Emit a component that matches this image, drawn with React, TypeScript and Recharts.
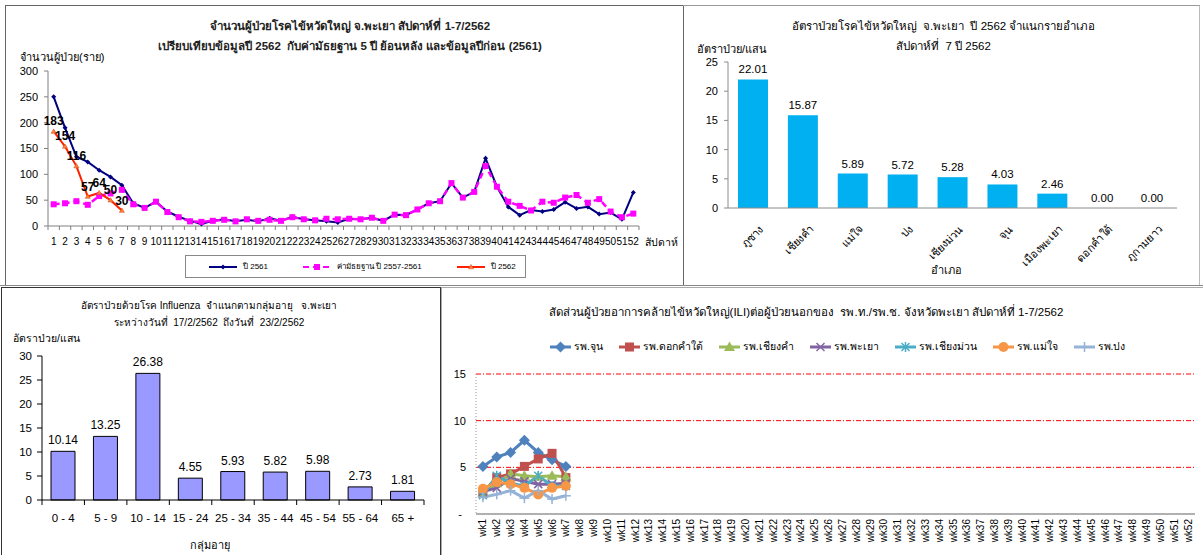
import React from 'react';
import {
  LineChart, Line, ComposedChart, Bar, XAxis, YAxis, LabelList, ReferenceLine,
} from 'recharts';

const FONT = "Tahoma, 'Liberation Sans', 'Noto Sans', sans-serif";

// ---- chart 1: weekly cases ----
const weeks = Array.from({ length: 52 }, (_, i) => String(i + 1));
const cases2561 = [250, 190, 134, 124, 108, 95, 79, 44, 35, 47, 28, 18, 10, 4, 10, 13, 9, 12, 9, 15, 10, 18, 13, 11, 9, 7, 14, 13, 16, 10, 22, 21, 32, 44, 48, 83, 55, 66, 131, 76, 37, 21, 31, 28, 32, 46, 34, 37, 23, 26, 13, 65];
const median5y = [42, 44, 48, 41, 58, 63, 70, 42, 35, 47, 27, 17, 9, 8, 10, 12, 9, 13, 10, 12, 10, 17, 13, 11, 14, 13, 14, 13, 16, 10, 22, 21, 32, 44, 48, 83, 55, 66, 116, 76, 47, 39, 30, 47, 45, 55, 60, 45, 52, 28, 17, 24];
const cases2562 = [183, 154, 116, 57, 64, 50, 30];
const lineTicks = [0, 50, 100, 150, 200, 250, 300];

const lineData = weeks.map((w, i) => ({
  week: w,
  y2561: cases2561[i],
  median: median5y[i],
  y2562: i < cases2562.length ? cases2562[i] : null,
}));

// ---- chart 2: rate by district ----
const districts = ['ภูซาง', 'เชียงคำ', 'แม่ใจ', 'ปง', 'เชียงม่วน', 'จุน', 'เมืองพะเยา', 'ดอกคำใต้', 'ภูกามยาว'];
const districtRates = [22.01, 15.87, 5.89, 5.72, 5.28, 4.03, 2.46, 0, 0];
const districtTicks = [0, 5, 10, 15, 20, 25];
const districtData = districts.map((d, i) => ({ name: d, rate: districtRates[i] }));

// ---- chart 3: rate by age group ----
const ageGroups = ['0 - 4', '5 - 9', '10 - 14', '15 - 24', '25 - 34', '35 - 44', '45 - 54', '55 - 64', '65 +'];
const ageRates = [10.14, 13.25, 26.38, 4.55, 5.93, 5.82, 5.98, 2.73, 1.81];
const ageTicks = [0, 5, 10, 15, 20, 25, 30];
const ageData = ageGroups.map((g, i) => ({ name: g, rate: ageRates[i] }));

// ---- chart 4: ILI proportion by hospital ----
const wkLabels = Array.from({ length: 52 }, (_, i) => `wk${i + 1}`);
const iliTicks = [0, 5, 10, 15];
const iliGrid = [5, 10, 15];
const hospJun = [5.1, 6.1, 6.6, 7.9, 6.6, 5.8, 5.1];
const hospDokkhamtai = [2.3, 3.9, 4.3, 5.1, 5.9, 6.5, 3.9];
const hospChiangkham = [2.3, 3.3, 4.3, 4.1, 4.0, 4.1, 4.0];
const hospPhayao = [2.4, 2.8, 3.8, 3.5, 3.2, 3.2, 3.3];
const hospChiangmuan = [2.0, 4.1, 3.3, 3.0, 4.1, 3.0, 3.0];
const hospMaechai = [2.7, 3.4, 3.2, 2.8, 2.1, 2.8, 3.0];
const hospPong = [1.8, 2.1, 2.5, 1.7, 2.5, 1.6, 1.95];

const hospitals = [
  { key: 'jun', name: 'รพ.จุน', color: '#4F81BD', marker: 'diamond', values: hospJun },
  { key: 'dok', name: 'รพ.ดอกคำใต้', color: '#C0504D', marker: 'square', values: hospDokkhamtai },
  { key: 'ck', name: 'รพ.เชียงคำ', color: '#9BBB59', marker: 'triangle', values: hospChiangkham },
  { key: 'py', name: 'รพ.พะเยา', color: '#8064A2', marker: 'x', values: hospPhayao },
  { key: 'cm', name: 'รพ.เชียงม่วน', color: '#4BACC6', marker: 'star', values: hospChiangmuan },
  { key: 'mc', name: 'รพ.แม่ใจ', color: '#F79646', marker: 'circle', values: hospMaechai },
  { key: 'pong', name: 'รพ.ปง', color: '#95B3D7', marker: 'plus', values: hospPong },
];

const iliData = wkLabels.map((w, i) => {
  const row: any = { week: w };
  hospitals.forEach((h) => { row[h.key] = i < h.values.length ? h.values[i] : null; });
  return row;
});

const lineSeries = [
  { key: 'y2561', name: 'ปี 2561', color: '#000080', marker: 'smalldiamond', dash: undefined },
  { key: 'median', name: 'ค่ามัธยฐาน ปี 2557-2561', color: '#FF00FF', marker: 'pinksquare', dash: '6 4' },
  { key: 'y2562', name: 'ปี 2562', color: '#FF2000', marker: 'smalltriangle', dash: undefined },
];

function Marker({ type, cx, cy, color }: { type: string; cx: number; cy: number; color: string }) {
  switch (type) {
    case 'smalldiamond':
      return <polygon points={`${cx},${cy - 2.5} ${cx + 2.5},${cy} ${cx},${cy + 2.5} ${cx - 2.5},${cy}`} fill={color} />;
    case 'pinksquare':
      return <rect x={cx - 3} y={cy - 3} width={6} height={6} fill={color} />;
    case 'smalltriangle':
      return <polygon points={`${cx},${cy - 2.5} ${cx + 2.5},${cy + 1.8} ${cx - 2.5},${cy + 1.8}`} fill="#FF8040" stroke="#D04000" strokeWidth={0.5} />;
    case 'diamond':
      return <polygon points={`${cx},${cy - 5.5} ${cx + 5.5},${cy} ${cx},${cy + 5.5} ${cx - 5.5},${cy}`} fill={color} />;
    case 'square':
      return <rect x={cx - 4.5} y={cy - 4.5} width={9} height={9} fill={color} />;
    case 'triangle':
      return <polygon points={`${cx},${cy - 5.5} ${cx + 5.5},${cy + 4} ${cx - 5.5},${cy + 4}`} fill={color} />;
    case 'x':
      return (
        <g stroke={color} strokeWidth={1.5}>
          <line x1={cx - 4} y1={cy - 4} x2={cx + 4} y2={cy + 4} />
          <line x1={cx - 4} y1={cy + 4} x2={cx + 4} y2={cy - 4} />
        </g>
      );
    case 'star':
      return (
        <g stroke={color} strokeWidth={1.5}>
          <line x1={cx - 4} y1={cy - 4} x2={cx + 4} y2={cy + 4} />
          <line x1={cx - 4} y1={cy + 4} x2={cx + 4} y2={cy - 4} />
          <line x1={cx} y1={cy - 5} x2={cx} y2={cy + 5} />
        </g>
      );
    case 'circle':
      return <circle cx={cx} cy={cy} r={5} fill={color} />;
    case 'plus':
      return (
        <g stroke={color} strokeWidth={1.5}>
          <line x1={cx - 5} y1={cy} x2={cx + 5} y2={cy} />
          <line x1={cx} y1={cy - 5} x2={cx} y2={cy + 5} />
        </g>
      );
    default:
      return null;
  }
}

const makeDot = (type: string, color: string) => (props: any) => {
  const { cx, cy, index, value } = props;
  if (cx == null || cy == null || value == null) return <g key={`d${index}`} />;
  return <g key={`d${index}`}><Marker type={type} cx={cx} cy={cy} color={color} /></g>;
};

// chart 1 geometry
const C1_BW = 591 / 52;
const WeekTick = (props: any) => {
  const { x, y, payload } = props;
  return (
    <g>
      <line x1={x - C1_BW / 2} x2={x - C1_BW / 2} y1={y} y2={y + 4} stroke="#808080" />
      {payload.value === '52' && <line x1={x + C1_BW / 2} x2={x + C1_BW / 2} y1={y} y2={y + 4} stroke="#808080" />}
      <text x={x} y={y + 19} textAnchor="middle" fontSize={10} fill="#000" fontFamily={FONT}>{payload.value}</text>
    </g>
  );
};

const DistrictTick = (props: any) => {
  const { x, y, payload } = props;
  const ax = x + 11;
  const ay = y + 22;
  return (
    <text x={ax} y={ay} textAnchor="end" fontSize={11} fill="#000" fontFamily={FONT} transform={`rotate(-45, ${ax}, ${ay})`}>
      {payload.value}
    </text>
  );
};

const C3_BW = (424 - 42) / 9;
const AgeTick = (props: any) => {
  const { x, y, payload } = props;
  return (
    <g>
      <line x1={x - C3_BW / 2} x2={x - C3_BW / 2} y1={y} y2={y + 5} stroke="#000" />
      {payload.value === '65 +' && <line x1={x + C3_BW / 2} x2={x + C3_BW / 2} y1={y} y2={y + 5} stroke="#000" />}
      <text x={x} y={y + 22} textAnchor="middle" fontSize={11.5} fill="#000" fontFamily={FONT}>{payload.value}</text>
    </g>
  );
};

const WkTick = (props: any) => {
  const { x, y, payload } = props;
  const ay = y + 5;
  return (
    <text x={x} y={ay} dy="0.35em" textAnchor="end" fontSize={10} fill="#000" fontFamily={FONT} transform={`rotate(-90, ${x}, ${ay})`}>
      {payload.value}
    </text>
  );
};

const IliYTick = (props: any) => {
  const { x, y, payload } = props;
  return (
    <text x={payload.value === 0 ? x - 4 : x} y={y} dy="0.35em" textAnchor="end" fontSize={11} fill="#000" fontFamily={FONT}>
      {payload.value === 0 ? '-' : payload.value}
    </text>
  );
};

const abs = (left: number, top: number, extra: React.CSSProperties = {}): React.CSSProperties => ({
  position: 'absolute', left, top, ...extra,
});

const txt: React.CSSProperties = { fontFamily: FONT, color: '#000', whiteSpace: 'nowrap' };

function LegendIcon({ color, marker, dash, width }: { color: string; marker: string; dash?: string; width: number }) {
  return (
    <svg width={width} height={12} style={{ display: 'block' }}>
      <line x1={1} x2={width - 1} y1={6} y2={6} stroke={color} strokeWidth={marker.startsWith('small') || marker === 'pinksquare' ? 2 : 3} strokeDasharray={dash} />
      <Marker type={marker} cx={width / 2} cy={6} color={color} />
    </svg>
  );
}

const fmt2 = (v: any) => Number(v).toFixed(2);

export default function App() {
  return (
    <div style={{ position: 'absolute', left: 0, top: 0, width: 1203, height: 555, background: '#fff', overflow: 'hidden', fontFamily: FONT }}>
      {/* panel frames */}
      <div style={abs(5, 5, { width: 677, height: 279, borderTop: '1px solid #666', borderLeft: '1px solid #666', borderRight: '1px solid #666' })} />
      <div style={abs(683, 5, { width: 516, height: 279, borderTop: '1px solid #999', borderRight: '1px solid #bbb' })} />
      <div style={abs(0, 285, { width: 1203, height: 0, borderTop: '1px solid #888' })} />
      <div style={abs(1, 287, { width: 438, height: 268, borderTop: '1px solid #333', borderLeft: '1px solid #333', borderRight: '1px solid #333' })} />
      <div style={abs(441, 287, { width: 762, height: 268, borderTop: '1px solid #aaa', borderLeft: '1px solid #aaa' })} />

      {/* ---------- chart 1 ---------- */}
      <div style={abs(0, 0)}>
        <LineChart width={681} height={285} data={lineData} margin={{ top: 71, right: 42, left: 8, bottom: 29 }}>
          <XAxis dataKey="week" scale="band" interval={0} height={30} tickLine={false} tickSize={0} tickMargin={0}
            axisLine={{ stroke: '#808080' }} tick={<WeekTick />} />
          <YAxis domain={[0, 300]} ticks={lineTicks} width={40} tickSize={4} tickMargin={6}
            axisLine={{ stroke: '#808080' }} tickLine={{ stroke: '#808080' }}
            tick={{ fontSize: 11, fill: '#000', fontFamily: FONT }} />
          {lineSeries.map((s) => (
            <Line key={s.key} dataKey={s.key} type="linear" stroke={s.color} strokeWidth={s.key === 'median' ? 2.5 : 2}
              strokeDasharray={s.dash} dot={makeDot(s.marker, s.color)} activeDot={false} isAnimationActive={false}>
              {s.key === 'y2562' && (
                <LabelList dataKey="y2562" position="top" offset={6} fontSize={12} fontWeight="bold" fill="#000" fontFamily={FONT} />
              )}
            </Line>
          ))}
        </LineChart>
      </div>
      <div style={abs(0, 16, { ...txt, width: 700, textAlign: 'center', fontSize: 11.5, fontWeight: 'bold', lineHeight: '20px', color: '#222' })}>
        จำนวนผู้ป่วยโรคไข้หวัดใหญ่ จ.พะเยา สัปดาห์ที่ 1-7/2562<br />
        เปรียบเทียบข้อมูลปี 2562&nbsp; กับค่ามัธยฐาน 5 ปี ย้อนหลัง และข้อมูลปีก่อน (2561)
      </div>
      <div style={abs(20, 48, { ...txt, fontSize: 11 })}>จำนวนผู้ป่วย(ราย)</div>
      <div style={abs(645, 234, { ...txt, fontSize: 10.5 })}>สัปดาห์</div>
      <div style={abs(185, 255, { width: 339, height: 21, border: '1px solid #888', display: 'flex', alignItems: 'center', background: '#fff' })}>
        {lineSeries.map((s, i) => (
          <div key={s.key} style={{ display: 'flex', alignItems: 'center', marginLeft: i === 0 ? 22 : 34 }}>
            <LegendIcon color={s.color} marker={s.marker} dash={s.dash} width={30} />
            <span style={{ ...txt, fontSize: 8, marginLeft: 5 }}>{s.name}</span>
          </div>
        ))}
      </div>

      {/* ---------- chart 2 ---------- */}
      <div style={abs(684, 0)}>
        <ComposedChart width={519} height={285} data={districtData} margin={{ top: 62, right: 26, left: 8, bottom: 17 }}>
          <XAxis dataKey="name" interval={0} height={60} tickLine={false} tickSize={0} tickMargin={0}
            axisLine={{ stroke: '#8c8c8c' }} tick={<DistrictTick />} />
          <YAxis domain={[0, 25]} ticks={districtTicks} width={36} tickSize={4} tickMargin={6}
            axisLine={{ stroke: '#8c8c8c' }} tickLine={{ stroke: '#8c8c8c' }}
            tick={{ fontSize: 11, fill: '#000', fontFamily: FONT }} />
          <Bar dataKey="rate" fill="#00B0F0" barSize={30} isAnimationActive={false} />
          <Line dataKey="rate" stroke="none" dot={false} activeDot={false} isAnimationActive={false}>
            <LabelList dataKey="rate" position="top" offset={6} fontSize={11.5} fill="#000" fontFamily={FONT} formatter={fmt2} />
          </Line>
        </ComposedChart>
      </div>
      <div style={abs(684, 16, { ...txt, width: 519, textAlign: 'center', fontSize: 11.5, lineHeight: '20px' })}>
        <div>อัตราป่วยโรคไข้หวัดใหญ่&nbsp; จ.พะเยา&nbsp; ปี 2562 จำแนกรายอำเภอ</div>
        <div>สัปดาห์ที่&nbsp; 7 ปี 2562</div>
      </div>
      <div style={abs(697, 40, { ...txt, fontSize: 11 })}>อัตราป่วย/แสน</div>
      <div style={abs(931, 261, { ...txt, fontSize: 11 })}>อำเภอ</div>

      {/* ---------- chart 3 ---------- */}
      <div style={abs(0, 285)}>
        <ComposedChart width={440} height={270} data={ageData} margin={{ top: 71, right: 16, left: 8, bottom: 15 }}>
          <XAxis dataKey="name" interval={0} height={40} tickLine={false} tickSize={0} tickMargin={0}
            axisLine={{ stroke: '#000' }} tick={<AgeTick />} />
          <YAxis domain={[0, 30]} ticks={ageTicks} width={34} tickSize={5} tickMargin={5}
            axisLine={{ stroke: '#000' }} tickLine={{ stroke: '#000' }}
            tick={{ fontSize: 11.5, fill: '#000', fontFamily: FONT }} />
          <Bar dataKey="rate" fill="#9999FF" stroke="#000" strokeWidth={1} barSize={24} isAnimationActive={false}>
            <LabelList dataKey="rate" position="top" offset={7} fontSize={12} fill="#000" fontFamily={FONT} formatter={fmt2} />
          </Bar>
        </ComposedChart>
      </div>
      <div style={abs(0, 297, { ...txt, width: 418, textAlign: 'center', fontSize: 10, lineHeight: '17px' })}>
        อัตราป่วยด้วยโรค Influenza&nbsp; จำแนกตามกลุ่มอายุ&nbsp;&nbsp; จ.พะเยา<br />
        ระหว่างวันที่&nbsp; 17/2/2562&nbsp; ถึงวันที่&nbsp; 23/2/2562
      </div>
      <div style={abs(13, 330, { ...txt, fontSize: 10.5 })}>อัตราป่วย/แสน</div>
      <div style={abs(190, 536, { ...txt, fontSize: 11 })}>กลุ่มอายุ</div>

      {/* ---------- chart 4 ---------- */}
      <div style={abs(441, 287)}>
        <LineChart width={762} height={268} data={iliData} margin={{ top: 87, right: 8, left: 5, bottom: 0 }}>
          <XAxis dataKey="week" scale="band" interval={0} height={41} tickLine={false} tickSize={0} tickMargin={0}
            axisLine={{ stroke: '#b0b0b0', strokeWidth: 2 }} tick={<WkTick />} />
          <YAxis domain={[0, 15]} ticks={iliTicks} width={30} tickLine={false} tickSize={0} tickMargin={10}
            axisLine={{ stroke: '#999', strokeDasharray: '1 2' }} tick={<IliYTick />} />
          {iliGrid.map((g) => (
            <ReferenceLine key={g} y={g} stroke="#FF0000" strokeDasharray="5 2 1 2" strokeWidth={1} />
          ))}
          {hospitals.map((h) => (
            <Line key={h.key} dataKey={h.key} type="linear" stroke={h.color} strokeWidth={3}
              dot={makeDot(h.marker, h.color)} activeDot={false} connectNulls={false} isAnimationActive={false} />
          ))}
        </LineChart>
      </div>
      <div style={abs(441, 303, { ...txt, width: 730, textAlign: 'center', fontSize: 11.5 })}>
        สัดส่วนผู้ป่วยอาการคล้ายไข้หวัดใหญ่(ILI)ต่อผู้ป่วยนอกของ&nbsp; รพ.ท./รพ.ช. จังหวัดพะเยา สัปดาห์ที่ 1-7/2562
      </div>
      <div style={abs(549, 338, { display: 'flex', alignItems: 'center' })}>
        {hospitals.map((h, i) => (
          <div key={h.key} style={{ display: 'flex', alignItems: 'center', marginLeft: i === 0 ? 0 : 15 }}>
            <LegendIcon color={h.color} marker={h.marker} width={23} />
            <span style={{ ...txt, fontSize: 10.5, marginLeft: 2 }}>{h.name}</span>
          </div>
        ))}
      </div>
    </div>
  );
}
